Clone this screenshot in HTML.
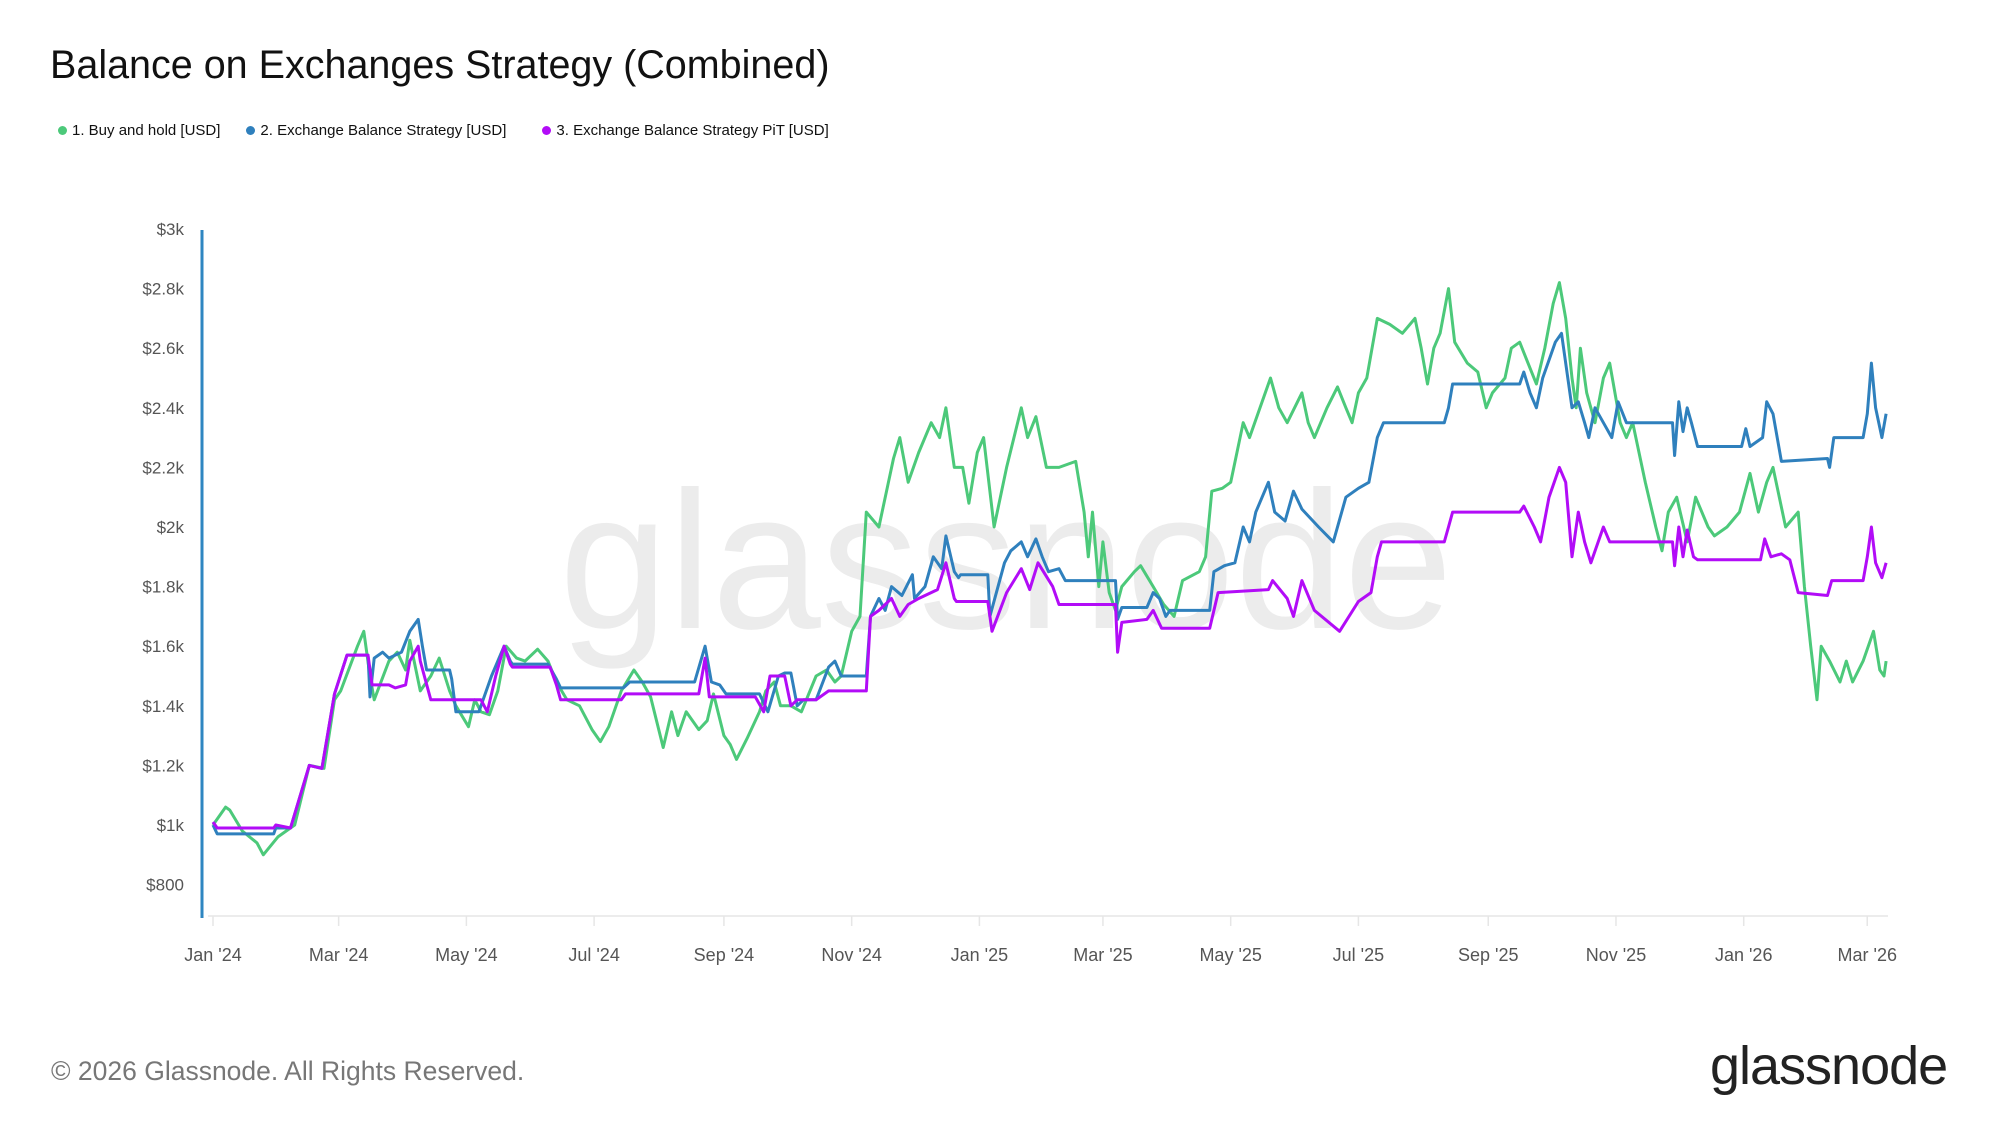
<!DOCTYPE html>
<html><head><meta charset="utf-8"><style>
html,body{margin:0;padding:0;background:#fff;}
body{width:2000px;height:1125px;position:relative;overflow:hidden;font-family:"Liberation Sans",Arial,sans-serif;}
.title{position:absolute;left:50px;top:43px;font-size:39.5px;color:#111;}
.legend{position:absolute;top:122px;left:58px;font-size:15px;color:#111;display:flex;}
.li{display:flex;align-items:center;margin-right:26px;}
.dot{width:9px;height:9px;border-radius:50%;margin-right:5px;}
.footer{position:absolute;left:51px;top:1056px;font-size:26.5px;color:#777;}
.logo{position:absolute;left:1710px;top:1035px;font-size:54px;color:#222;letter-spacing:-1px;}
</style></head><body>
<div class="title">Balance on Exchanges Strategy (Combined)</div>
<div class="legend">
 <div class="li"><span class="dot" style="background:#4cc97a"></span>1. Buy and hold [USD]</div>
 <div class="li"><span class="dot" style="background:#2f80bd"></span>2. Exchange Balance Strategy [USD]</div>
 <div class="li" style="margin-left:10px"><span class="dot" style="background:#b20cf7"></span>3. Exchange Balance Strategy PiT [USD]</div>
</div>
<svg id="chart" width="2000" height="1125" style="position:absolute;left:0;top:0"></svg>
<div class="footer">© 2026 Glassnode. All Rights Reserved.</div>
<div class="logo">glassnode</div>
<script>
const yTicks=[800,1000,1200,1400,1600,1800,2000,2200,2400,2600,2800,3000];
const yTickLabels=["$800","$1k","$1.2k","$1.4k","$1.6k","$1.8k","$2k","$2.2k","$2.4k","$2.6k","$2.8k","$3k"];
const xTickDays=[0,60,121,182,244,305,366,425,486,547,609,670,731,790];
const xTickLabels=["Jan '24","Mar '24","May '24","Jul '24","Sep '24","Nov '24","Jan '25","Mar '25","May '25","Jul '25","Sep '25","Nov '25","Jan '26","Mar '26"];
const greenDays=[0,6,8,14,21,24,31,39,46,53,58,61,69,72,75,77,84,88,92,94,99,104,108,113,116,122,125,128,132,136,140,145,149,155,160,164,169,175,181,185,189,195,201,205,209,215,219,222,226,232,236,239,244,247,250,255,261,264,268,271,276,281,288,293,297,300,305,309,312,318,325,328,332,337,343,347,350,354,358,361,365,368,373,379,386,389,393,398,404,412,416,418,420,423,425,428,431,434,440,443,449,454,459,463,471,474,477,482,486,492,495,500,505,509,513,520,523,526,532,537,541,544,547,551,556,562,568,574,577,580,583,586,590,593,599,604,608,611,617,620,624,628,632,636,640,643,646,649,651,653,656,660,664,667,672,675,678,684,689,692,695,699,704,708,714,717,723,729,734,738,742,745,748,751,757,760,763,766,768,772,777,780,783,788,793,796,798,799];
const greenVals=[1000,1060,1050,980,940,900,960,1000,1200,1190,1420,1450,1600,1650,1500,1420,1550,1580,1520,1620,1450,1500,1560,1450,1400,1330,1420,1380,1370,1450,1600,1560,1550,1590,1550,1480,1420,1400,1320,1280,1330,1450,1520,1480,1430,1260,1380,1300,1380,1320,1350,1440,1300,1270,1220,1290,1380,1450,1480,1400,1400,1380,1500,1520,1480,1500,1650,1700,2050,2000,2230,2300,2150,2250,2350,2300,2400,2200,2200,2080,2250,2300,2000,2200,2400,2300,2370,2200,2200,2220,2050,1900,2050,1800,1950,1780,1720,1800,1850,1870,1800,1740,1700,1820,1850,1900,2120,2130,2150,2350,2300,2400,2500,2400,2350,2450,2350,2300,2400,2470,2400,2350,2450,2500,2700,2680,2650,2700,2600,2480,2600,2650,2800,2620,2550,2520,2400,2450,2500,2600,2620,2550,2480,2600,2750,2820,2700,2500,2400,2600,2450,2350,2500,2550,2350,2300,2350,2150,2000,1920,2050,2100,1950,2100,2000,1970,2000,2050,2180,2050,2150,2200,2100,2000,2050,1800,1600,1420,1600,1550,1480,1550,1480,1550,1650,1520,1500,1550];
const blueDays=[0,2,29,30,37,46,52,58,64,74,75,77,81,84,90,94,98,100,102,113,114,116,127,128,133,139,142,143,160,164,166,196,199,230,235,238,242,245,261,265,270,273,276,279,282,288,294,297,300,312,314,318,321,324,329,334,335,340,344,348,350,354,356,357,370,371,378,381,386,389,393,396,399,404,407,431,432,434,446,449,452,455,457,476,478,483,488,492,495,498,504,507,512,516,520,528,535,541,547,552,556,559,588,590,592,624,626,629,632,635,641,644,649,652,655,657,660,664,668,671,675,697,698,700,702,704,706,709,730,732,734,740,742,745,749,771,772,774,788,790,792,794,797,799];
const blueVals=[1000,970,970,990,990,1200,1190,1440,1570,1570,1430,1560,1580,1560,1580,1650,1690,1600,1520,1520,1490,1380,1380,1400,1500,1600,1550,1540,1540,1490,1460,1460,1480,1480,1600,1480,1470,1440,1440,1380,1500,1510,1510,1400,1420,1420,1530,1550,1500,1500,1700,1760,1720,1800,1770,1840,1760,1800,1900,1860,1970,1850,1830,1840,1840,1700,1880,1920,1950,1900,1960,1900,1850,1860,1820,1820,1690,1730,1730,1780,1760,1700,1720,1720,1850,1870,1880,2000,1950,2050,2150,2050,2020,2120,2060,2000,1950,2100,2130,2150,2300,2350,2350,2400,2480,2480,2520,2450,2400,2500,2620,2650,2400,2420,2350,2300,2400,2350,2300,2420,2350,2350,2240,2420,2320,2400,2350,2270,2270,2330,2270,2300,2420,2380,2220,2230,2200,2300,2300,2380,2550,2400,2300,2380];
const purpleDays=[0,2,29,30,37,46,52,58,64,74,76,84,87,92,94,98,99,104,128,131,135,139,142,143,161,164,166,195,197,232,235,237,259,263,266,273,276,279,288,294,312,314,318,324,328,332,337,346,350,354,355,370,372,379,386,390,394,401,404,431,432,434,446,449,453,476,480,504,506,513,516,520,526,538,547,553,556,558,588,590,592,624,626,631,634,638,643,646,649,652,655,658,664,667,697,698,700,702,704,707,709,739,741,744,749,753,757,771,773,788,790,792,794,797,799];
const purpleVals=[1010,990,990,1000,990,1200,1190,1440,1570,1570,1470,1470,1460,1470,1550,1600,1550,1420,1420,1380,1500,1600,1540,1530,1530,1470,1420,1420,1440,1440,1560,1430,1430,1380,1500,1500,1400,1420,1420,1450,1450,1700,1720,1760,1700,1740,1760,1790,1880,1760,1750,1750,1650,1780,1860,1790,1880,1800,1740,1740,1580,1680,1690,1720,1660,1660,1780,1790,1820,1760,1700,1820,1720,1650,1750,1780,1900,1950,1950,2000,2050,2050,2070,2000,1950,2100,2200,2150,1900,2050,1950,1880,2000,1950,1950,1870,2000,1900,1990,1900,1890,1890,1960,1900,1910,1890,1780,1770,1820,1820,1900,2000,1880,1830,1880];

const NS="http://www.w3.org/2000/svg";
const svg=document.getElementById('chart');
const X=d=>213+d*2.094;
const Y=v=>825-(v-1000)*0.298;
function mk(tag,attrs,parent){const e=document.createElementNS(NS,tag);for(const k in attrs)e.setAttribute(k,attrs[k]);(parent||svg).appendChild(e);return e;}

const wm=mk('text',{x:1006,y:628,'text-anchor':'middle','font-size':196,fill:'#ececec','font-family':'Liberation Sans, Arial, sans-serif'});
wm.textContent='glassnode';



const xa=mk('line',{x1:208,y1:916,x2:1888,y2:916,stroke:'#ececec','stroke-width':2});


const ya=mk('line',{x1:202,y1:230,x2:202,y2:918,stroke:'#2e86c1','stroke-width':3});



yTicks.forEach((v,i)=>{
 const t=mk('text',{x:184,y:Y(v)+6,'text-anchor':'end','font-size':17,fill:'#555','font-family':'Liberation Sans, Arial, sans-serif'});
 t.textContent=yTickLabels[i];
 
 
});
xTickDays.forEach((d,i)=>{
 const tk=mk('line',{x1:X(d),y1:916,x2:X(d),y2:926,stroke:'#e6e6e6','stroke-width':1.5});
 
 
 const t=mk('text',{x:X(d),y:961,'text-anchor':'middle','font-size':18,fill:'#555','font-family':'Liberation Sans, Arial, sans-serif'});
 t.textContent=xTickLabels[i];
 
 
});
function series(days,vals,color,name){
 const d=days.map((dd,i)=>(i?'L':'M')+X(dd).toFixed(1)+','+Y(vals[i]).toFixed(1)).join(' ');
 const p=mk('path',{d:d,fill:'none',stroke:color,'stroke-width':3,'stroke-linejoin':'round'});
 
 
}
series(greenDays,greenVals,'#4cc97a','buy-and-hold-line');
series(blueDays,blueVals,'#2f80bd','exchange-balance-strategy-line');
series(purpleDays,purpleVals,'#b20cf7','exchange-balance-strategy-pit-line');
</script>
</body></html>
